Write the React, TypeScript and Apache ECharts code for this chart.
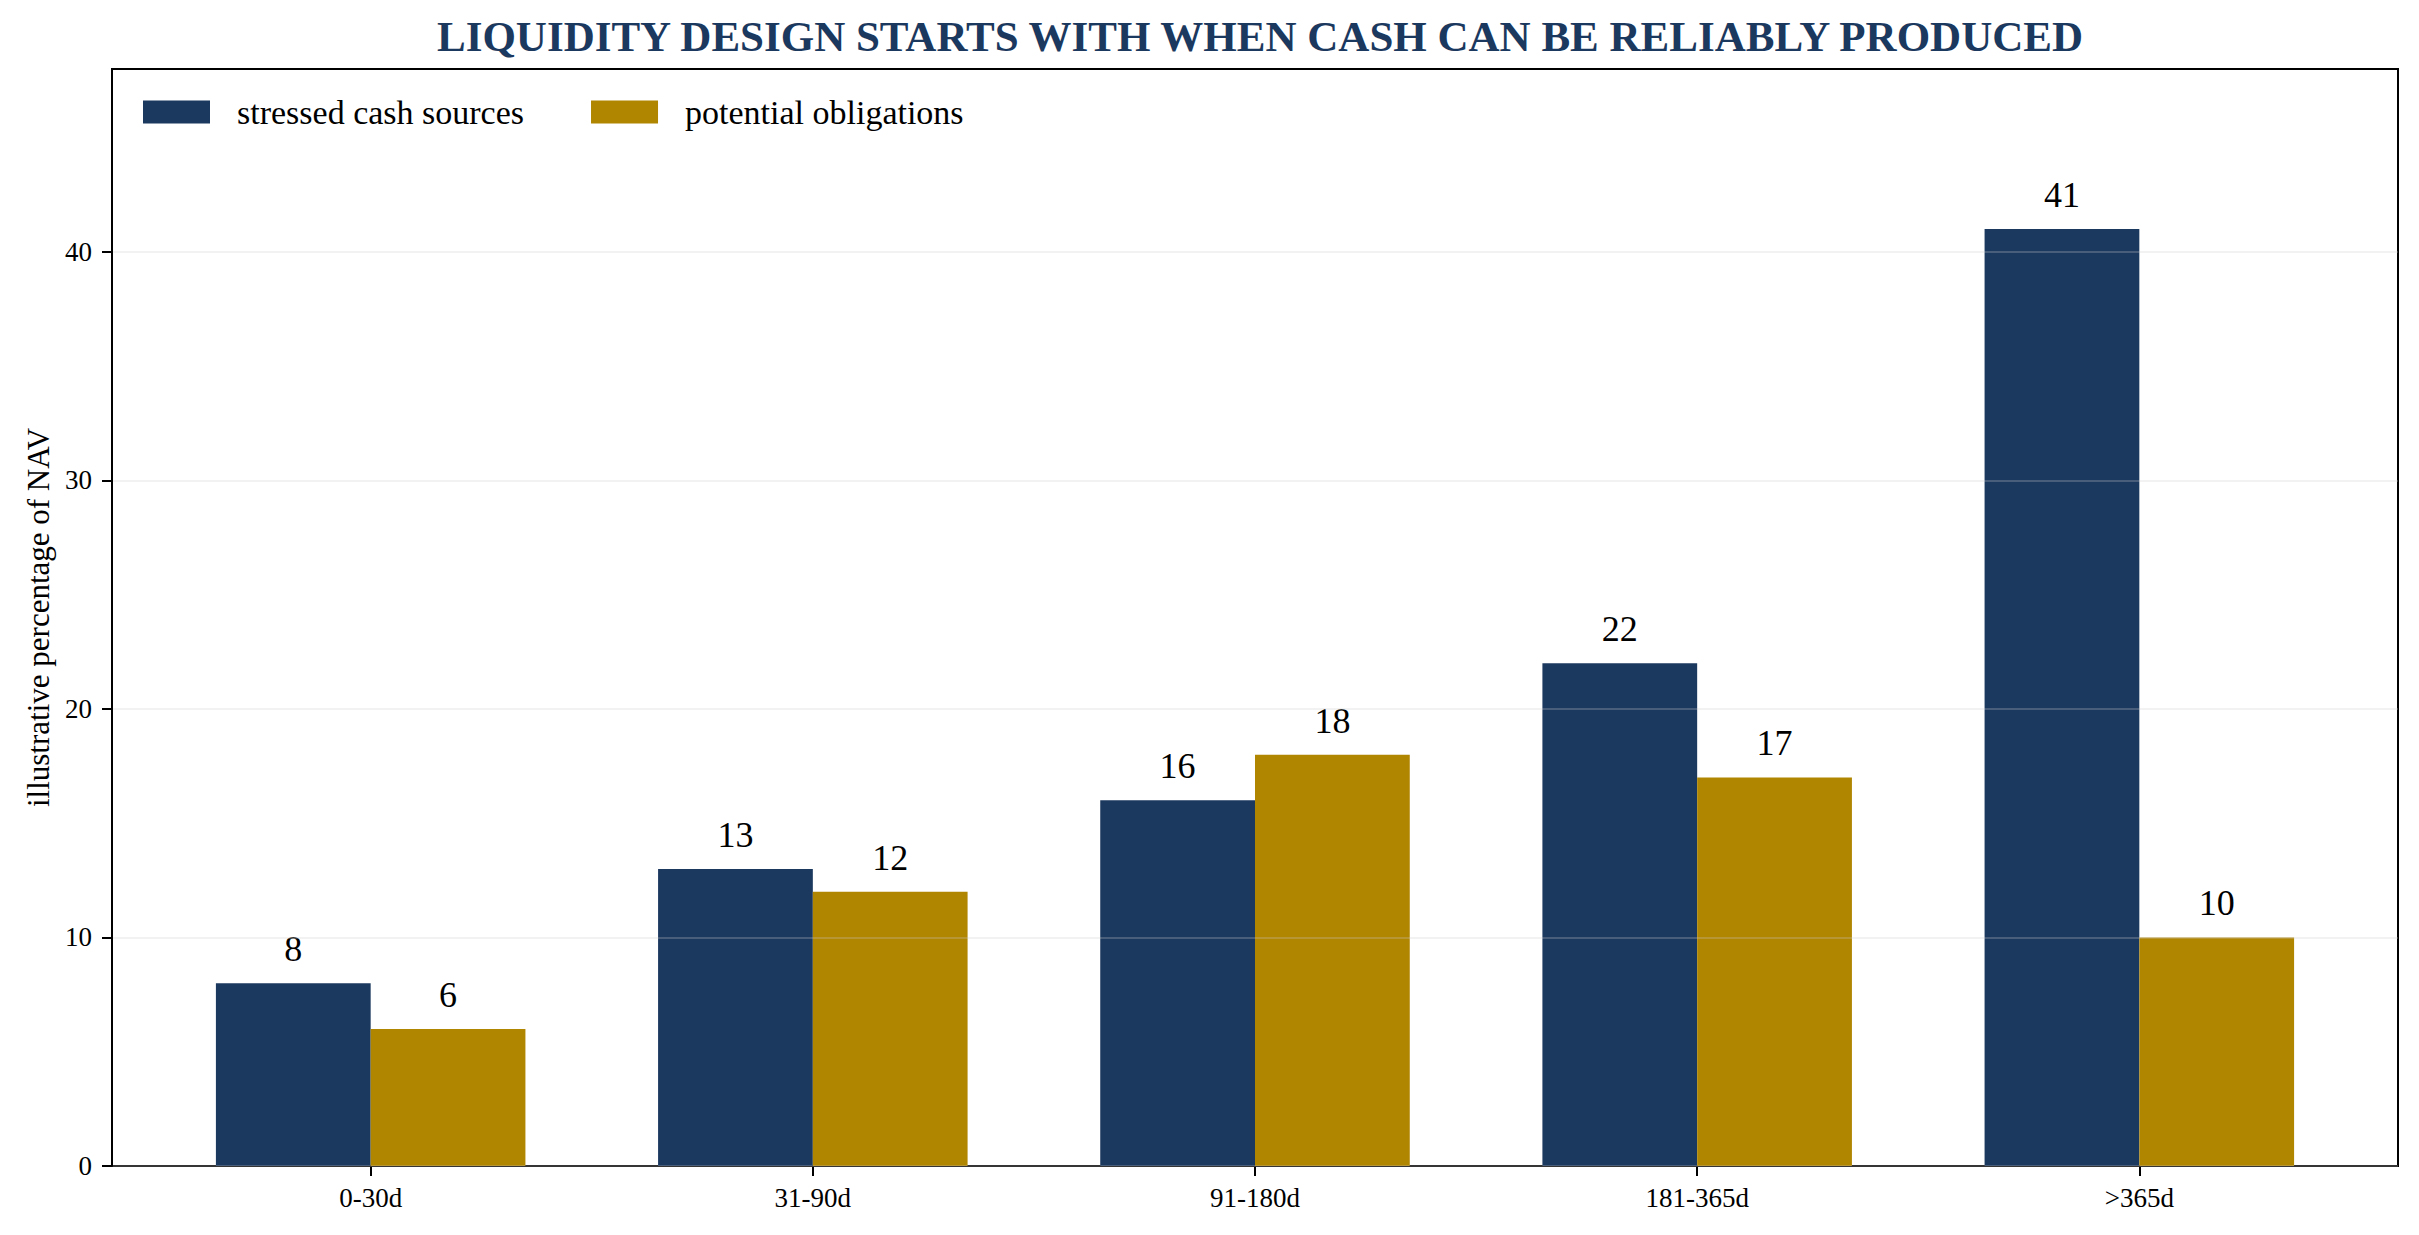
import React, { useEffect, useRef } from "react";
import * as echarts from "echarts";

const categories = ["0-30d", "31-90d", "91-180d", "181-365d", ">365d"];
const stressedCashSources = [8, 13, 16, 22, 41];
const potentialObligations = [6, 12, 18, 17, 10];
const yTicks = [0, 10, 20, 30, 40];
const seriesNames = ["stressed cash sources", "potential obligations"];
const titleText = "LIQUIDITY DESIGN STARTS WITH WHEN CASH CAN BE RELIABLY PRODUCED";
const yAxisTitle = "illustrative percentage of NAV";

const FONT = "'Liberation Serif', 'Times New Roman', Times, serif";
const NAVY = "#1b385e";
const GOLD = "#b08500";

export default function App() {
  const ref = useRef<HTMLDivElement>(null);

  useEffect(() => {
    if (!ref.current) return;
    const chart = echarts.init(ref.current, null, { renderer: "svg" });
    const xIdx = categories.map((_, i) => i);
    const labelStyle = {
      show: true,
      position: "top" as const,
      distance: 16,
      fontFamily: FONT,
      fontSize: 36,
      color: "#000",
    };
    chart.setOption({
      animation: false,
      backgroundColor: "#fff",
      title: {
        text: titleText,
        left: 1255,
        top: 10,
        textAlign: "center",
        textStyle: { fontFamily: FONT, fontSize: 43, fontWeight: "bold", color: NAVY },
      },
      legend: {
        left: 143,
        top: 95,
        padding: 0,
        itemWidth: 67,
        itemHeight: 23,
        itemGap: 67,
        icon: "rect",
        data: seriesNames,
        textStyle: { fontFamily: FONT, fontSize: 34, color: "#000", padding: [0, 0, 0, 22] },
      },
      grid: {
        left: 112,
        right: 21,
        top: 69,
        bottom: 69,
        show: true,
        borderColor: "#000",
        borderWidth: 2,
        backgroundColor: "transparent",
        containLabel: false,
      },
      xAxis: {
        type: "value",
        min: -0.585,
        max: 4.585,
        splitLine: { show: false },
        axisLine: { show: true, onZero: false, lineStyle: { color: "#000", width: 2 } },
        axisTick: { show: true, length: 10, lineStyle: { color: "#000", width: 2 }, customValues: xIdx },
        axisLabel: {
          show: true,
          customValues: xIdx,
          margin: 18,
          fontFamily: FONT,
          fontSize: 27,
          color: "#000",
          formatter: (v: number) => categories[Math.round(v)] ?? "",
        },
      },
      yAxis: {
        type: "value",
        min: 0,
        max: 48,
        interval: 10,
        z: 5,
        name: yAxisTitle,
        nameLocation: "middle",
        nameRotate: 90,
        nameGap: 57,
        nameTextStyle: { fontFamily: FONT, fontSize: 31, color: "#000" },
        axisLine: { show: true, onZero: false, lineStyle: { color: "#000", width: 2 } },
        axisTick: { show: true, length: 10, lineStyle: { color: "#000", width: 2 }, customValues: yTicks },
        axisLabel: {
          customValues: yTicks,
          margin: 20,
          fontFamily: FONT,
          fontSize: 27,
          color: "#000",
        },
        splitLine: { show: true, lineStyle: { color: "rgba(204,204,204,0.35)", width: 1.6 } },
      },
      series: [
        {
          name: seriesNames[0],
          type: "bar",
          data: stressedCashSources.map((v, i) => [xIdx[i], v]),
          barWidth: "35%",
          barGap: "0%",
          itemStyle: { color: NAVY },
          label: labelStyle,
        },
        {
          name: seriesNames[1],
          type: "bar",
          data: potentialObligations.map((v, i) => [xIdx[i], v]),
          barWidth: "35%",
          barGap: "0%",
          itemStyle: { color: GOLD },
          label: labelStyle,
        },
      ],
    });
    return () => chart.dispose();
  }, []);

  return (
    <div
      ref={ref}
      style={{ position: "fixed", left: 0, top: 0, width: "2419px", height: "1235px", background: "#fff" }}
    />
  );
}
